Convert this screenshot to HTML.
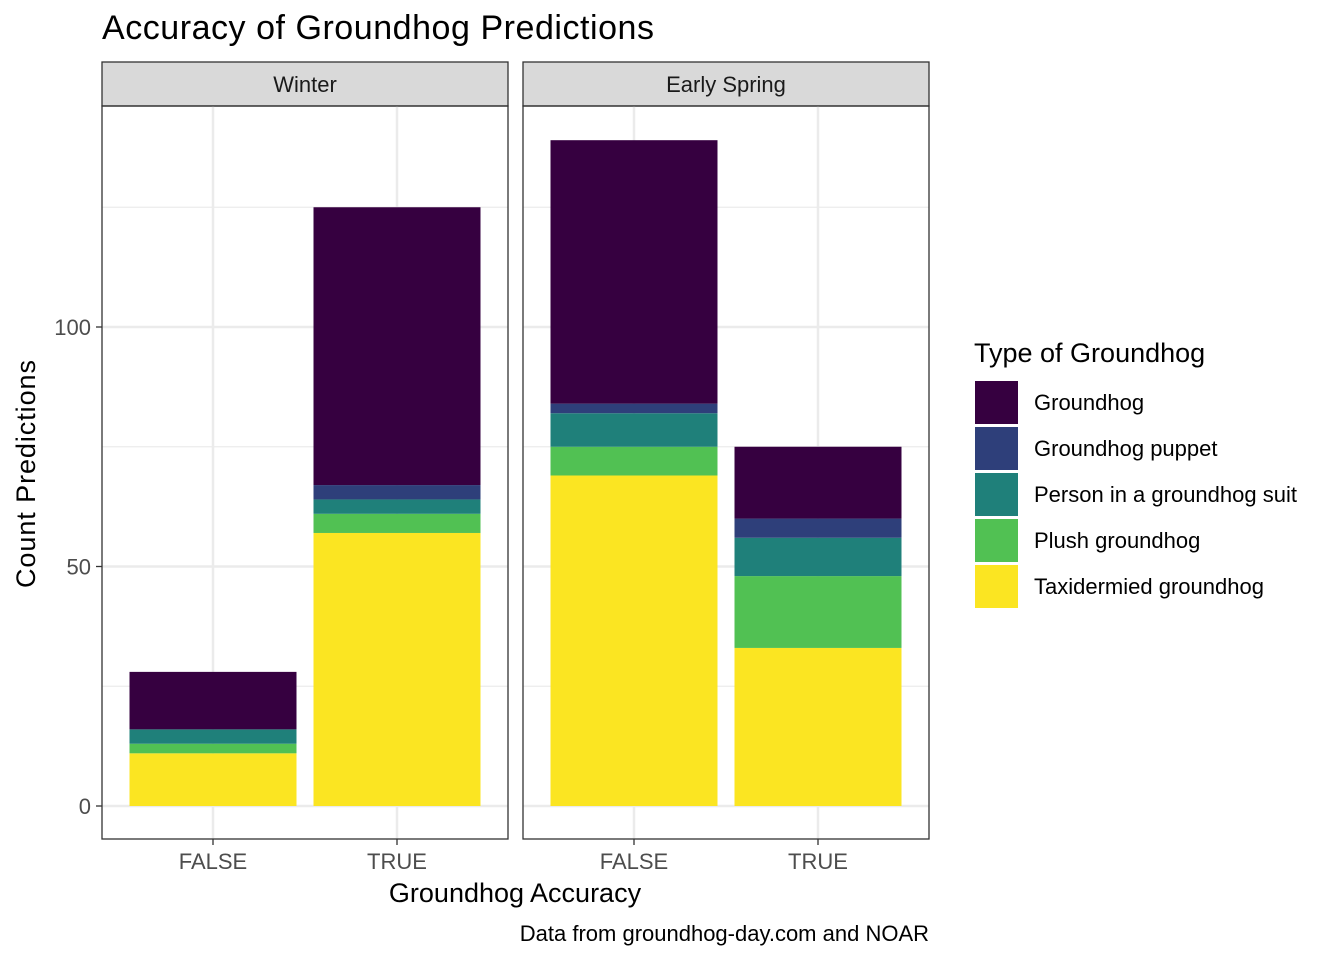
<!DOCTYPE html>
<html><head><meta charset="utf-8"><style>
body{margin:0;background:#fff;}
svg text{font-family:"Liberation Sans",Arial,sans-serif;}
</style></head><body>
<svg id="chart" width="1344" height="960" xmlns="http://www.w3.org/2000/svg">
<text x="102" y="39" font-size="34" fill="#000" textLength="552">Accuracy of Groundhog Predictions</text>
<g id="panels"></g>
<g id="legend"></g>
<text x="26" y="474" font-size="27" fill="#000" transform="rotate(-90 26 474)" text-anchor="middle" dy="9" textLength="228">Count Predictions</text>
<text x="515" y="902" font-size="27" fill="#000" text-anchor="middle">Groundhog Accuracy</text>
<text x="929" y="941" font-size="22" fill="#000" text-anchor="end">Data from groundhog-day.com and NOAR</text>
</svg>
<script>
const facets = ["Winter", "Early Spring"];
const categories = ["FALSE", "TRUE"];
const types = ["Groundhog","Groundhog puppet","Person in a groundhog suit","Plush groundhog","Taxidermied groundhog"];
const colors = ["#360040","#2E3F7A","#1F807A","#51C153","#FBE522"];
const winterFalse = [12,0,3,2,11];
const winterTrue = [58,3,3,4,57];
const springFalse = [55,2,7,6,69];
const springTrue = [15,4,8,15,33];
const yTicks = [0,50,100];
const yMinor = [25,75,125];
const data = [[winterFalse, winterTrue],[springFalse, springTrue]];

const NS = "http://www.w3.org/2000/svg";
function mk(tag, attrs, parent){const e=document.createElementNS(NS,tag);for(const k in attrs)e.setAttribute(k,attrs[k]);parent.appendChild(e);return e;}
const yScale = v => 806 - v*4.79;
const panelX = [102, 523], panelW = 406, plotTop = 106, plotBottom = 839;
const xCenter = (p, i) => panelX[p] + 111 + i*184;
const barW = 167;
const panels = document.getElementById("panels");

facets.forEach((f, p) => {
  const g = mk("g", {}, panels);
  
  
  const s = mk("rect", {x:panelX[p], y:62, width:panelW, height:44, fill:"#d9d9d9", stroke:"#333", "stroke-width":1.3}, g);
  
  
  const st = mk("text", {x:panelX[p]+panelW/2, y:92, "font-size":22, fill:"#1a1a1a", "text-anchor":"middle"}, g);
  st.textContent = f;
  
  
  yMinor.forEach(v => { const l = mk("line",{x1:panelX[p],x2:panelX[p]+panelW,y1:yScale(v),y2:yScale(v),stroke:"#ebebeb","stroke-width":1.2},g);
      });
  yTicks.forEach(v => { const l = mk("line",{x1:panelX[p],x2:panelX[p]+panelW,y1:yScale(v),y2:yScale(v),stroke:"#ebebeb","stroke-width":2.5},g);
      });
  categories.forEach((c, i) => { const l = mk("line",{x1:xCenter(p,i),x2:xCenter(p,i),y1:plotTop,y2:plotBottom,stroke:"#ebebeb","stroke-width":2.5},g);
      });
  categories.forEach((c, i) => {
    const vals = data[p][i];
    let cum = 0;
    for (let k = types.length-1; k >= 0; k--) {
      const v = vals[k];
      if (v > 0) {
        const r = mk("rect",{x:xCenter(p,i)-barW/2, y:yScale(cum+v), width:barW, height:v*4.79, fill:colors[k]}, g);
        
        
      }
      cum += v;
    }
    const tk = mk("line",{x1:xCenter(p,i),x2:xCenter(p,i),y1:plotBottom,y2:plotBottom+6,stroke:"#333","stroke-width":1.3},g);
     
    const tl = mk("text",{x:xCenter(p,i),y:869,"font-size":22,fill:"#4d4d4d","text-anchor":"middle"},g);
    tl.textContent = c;
     
  });
  const b = mk("rect",{x:panelX[p],y:plotTop,width:panelW,height:plotBottom-plotTop,fill:"none",stroke:"#333","stroke-width":1.3},g);
   
});
yTicks.forEach(v => {
  const tk = mk("line",{x1:96,x2:102,y1:yScale(v),y2:yScale(v),stroke:"#333","stroke-width":1.3},panels);
   
  const tl = mk("text",{x:91,y:yScale(v)+8,"font-size":22,fill:"#4d4d4d","text-anchor":"end"},panels);
  tl.textContent = v;
   
});
const lg = document.getElementById("legend");


const lt = mk("text",{x:974,y:362,"font-size":27,fill:"#000"},lg);
lt.textContent = "Type of Groundhog";
 
types.forEach((t,k) => {
  const r = mk("rect",{x:975,y:381+k*46,width:43,height:43,fill:colors[k]},lg);
   
  const tx = mk("text",{x:1034,y:410+k*46,"font-size":22,fill:"#000"},lg);
  tx.textContent = t;
   
});
</script>
</body></html>
